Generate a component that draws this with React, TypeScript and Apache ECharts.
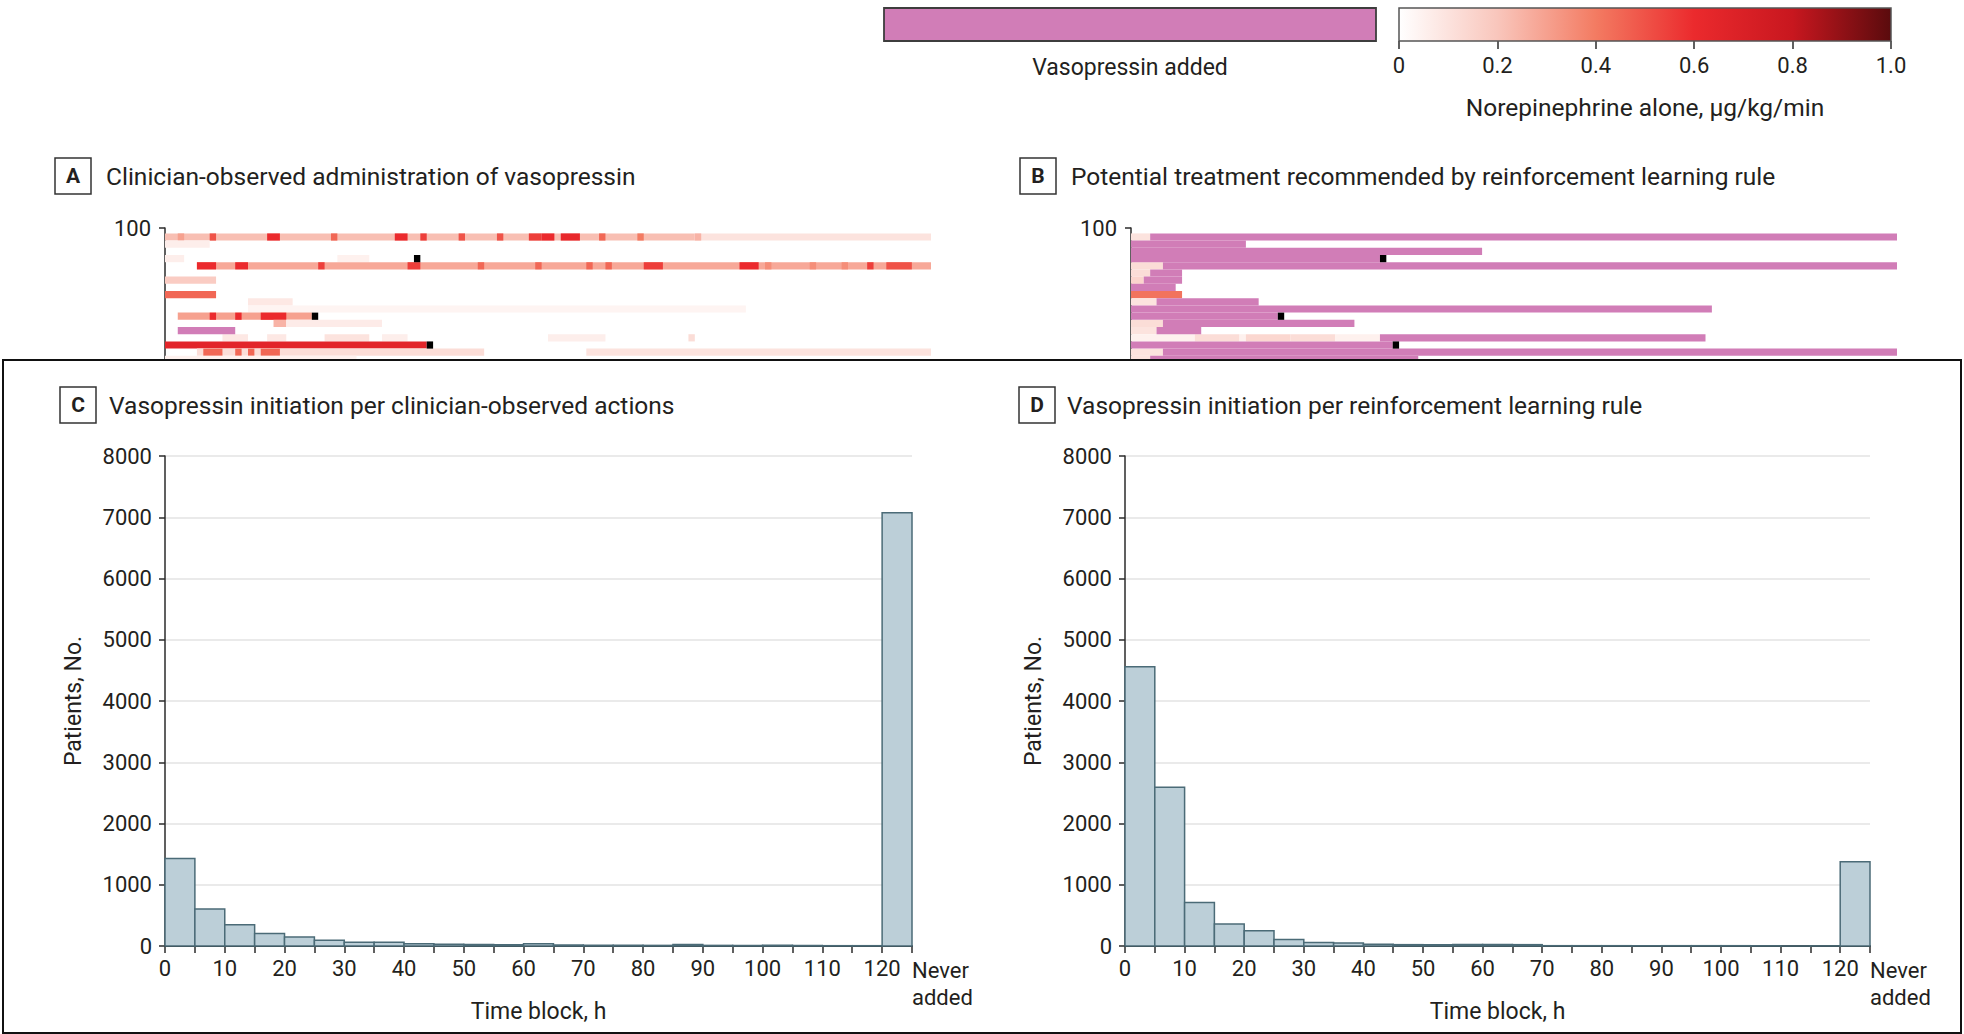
import React, { useEffect, useRef } from "react";
import * as echarts from "echarts";

// ---------- style constants ----------
const FONT = "Roboto, 'Liberation Sans', sans-serif";
const TEXT = "#231f20";
const AXIS = "#2b2b2b";
const VASO_COLOR = "#d17db7";
const BAR_FILL = "#bccfd8";
const BAR_STROKE = "#4b6b77";
const GRID_LINE = "#e3e3e3";

// ---------- colour scale (norepinephrine alone, µg/kg/min) ----------
const NOREPI_MIN = 0;
const NOREPI_MAX = 1;
const NOREPI_COLORS = ["#ffffff", "#f9c6bc", "#f37b62", "#eb2a2d", "#c8171f", "#5a0b0d"];

// ---------- heat map panels (rows = patients, columns = time blocks) ----------
const HEAT_X_MAX = 120;
const HEAT_Y_TICKS = [100];

// A: [patient, startBlock, endBlock, norepinephrine dose]
const A_NOREPI = [
  [99, 0, 83, 0.22], [99, 83, 120, 0.1],
  [99, 2, 3, 0.3], [99, 7, 8, 0.5], [99, 16, 18, 0.6], [99, 26, 27, 0.45], [99, 36, 38, 0.6],
  [99, 40, 41, 0.55], [99, 46, 47, 0.5], [99, 52, 53, 0.5], [99, 57, 59, 0.55], [99, 59, 61, 0.6],
  [99, 62, 65, 0.62], [99, 68, 69, 0.45], [99, 74, 75, 0.4], [99, 83, 84, 0.25],
  [98, 0, 7, 0.06],
  [96, 0, 3, 0.06], [96, 27, 32, 0.05],
  [95, 5, 120, 0.28],
  [95, 5, 8, 0.6], [95, 11, 13, 0.6], [95, 24, 25, 0.55], [95, 38, 40, 0.55], [95, 49, 50, 0.45],
  [95, 58, 59, 0.45], [95, 66, 67, 0.45], [95, 69, 70, 0.45], [95, 75, 78, 0.55], [95, 90, 93, 0.6],
  [95, 94, 95, 0.35], [95, 101, 102, 0.35], [95, 106, 107, 0.35], [95, 110, 111, 0.55], [95, 113, 117, 0.5],
  [93, 0, 8, 0.18],
  [91, 0, 8, 0.45],
  [90, 13, 20, 0.08],
  [89, 13, 91, 0.04],
  [88, 2, 23, 0.3], [88, 7, 8, 0.6], [88, 11, 12, 0.6], [88, 15, 19, 0.6],
  [87, 17, 19, 0.25], [87, 19, 34, 0.07],
  [85, 9, 13, 0.08], [85, 16, 19, 0.08], [85, 25, 32, 0.1], [85, 34, 38, 0.06], [85, 60, 69, 0.06], [85, 82, 83, 0.12],
  [84, 0, 41, 0.65],
  [83, 5, 50, 0.12], [83, 66, 120, 0.1],
  [83, 6, 9, 0.45], [83, 11, 12, 0.45], [83, 13, 14, 0.45], [83, 15, 18, 0.45],
  [82, 0, 30, 0.05],
];
// A: [patient, startBlock, endBlock] with vasopressin added
const A_VASO = [[86, 2, 11]];
// A: [patient, block] of black markers
const A_MARKERS = [[96, 39], [88, 23], [84, 41]];

// B: [patient, startBlock, endBlock, norepinephrine dose]
const B_NOREPI = [
  [99, 0, 3, 0.1],
  [95, 0, 5, 0.12],
  [94, 0, 3, 0.12],
  [93, 0, 2, 0.15],
  [91, 0, 8, 0.42],
  [90, 0, 4, 0.1],
  [87, 0, 5, 0.12],
  [86, 0, 4, 0.1],
  [85, 0, 10, 0.05], [85, 10, 17, 0.12], [85, 17, 18, 0.05], [85, 18, 25, 0.14], [85, 25, 32, 0.12], [85, 32, 39, 0.05],
  [83, 0, 5, 0.1],
  [82, 0, 3, 0.1],
];
// B: [patient, startBlock, endBlock] with vasopressin recommended
const B_VASO = [
  [99, 3, 120], [98, 0, 18], [97, 0, 55], [96, 0, 39], [95, 5, 120], [94, 3, 8], [93, 2, 8],
  [92, 0, 7], [90, 4, 20], [89, 0, 91], [88, 0, 23], [87, 5, 35], [86, 4, 11], [85, 39, 90],
  [84, 0, 41], [83, 5, 120], [82, 3, 45],
];
const B_MARKERS = [[96, 39], [88, 23], [84, 41]];

// ---------- histograms (5-h time blocks) ----------
const BIN_EDGES = [0, 5, 10, 15, 20, 25, 30, 35, 40, 45, 50, 55, 60, 65, 70, 75, 80, 85, 90, 95, 100, 105, 110, 115, 120];
const NEVER_BIN = [120, 125];
const C_COUNTS = [1430, 605, 345, 205, 145, 95, 62, 60, 35, 27, 25, 22, 35, 15, 12, 12, 10, 25, 10, 10, 12, 8, 5, 5];
const C_NEVER = 7075;
const D_COUNTS = [4560, 2590, 712, 358, 248, 108, 56, 50, 28, 22, 20, 25, 25, 22, 5, 5, 5, 5, 5, 5, 5, 3, 2, 2];
const D_NEVER = 1375;
const Y_MAX = 8000;
const Y_STEP = 1000;

function histData(counts: number[], never: number) {
  const rows = counts.map((c, i) => [BIN_EDGES[i], BIN_EDGES[i + 1], c]);
  rows.push([NEVER_BIN[0], NEVER_BIN[1], never]);
  return rows;
}

function heatRender(kind: "norepi" | "vaso" | "marker") {
  return (params: any, api: any) => {
    const p = api.value(0);
    const s = api.value(1);
    const e = kind === "marker" ? s + 1 : api.value(2);
    const tl = api.coord([s, p + 0.25]);
    const br = api.coord([e, p - 0.75]);
    const cs = params.coordSys;
    const rect = echarts.graphic.clipRectByRect(
      { x: tl[0], y: tl[1], width: br[0] - tl[0], height: br[1] - tl[1] },
      { x: cs.x, y: cs.y, width: cs.width, height: cs.height }
    );
    if (!rect) return null;
    const fill = kind === "norepi" ? api.visual("color") : kind === "vaso" ? VASO_COLOR : "#000000";
    return { type: "rect", shape: rect, style: { fill } };
  };
}

function histRender(params: any, api: any) {
  const p0 = api.coord([api.value(0), api.value(2)]);
  const p1 = api.coord([api.value(1), 0]);
  return {
    type: "rect",
    shape: { x: p0[0], y: p0[1], width: p1[0] - p0[0], height: p1[1] - p0[1] },
    style: { fill: BAR_FILL, stroke: BAR_STROKE, lineWidth: 1.5 },
  };
}

function colorbarRender(params: any, api: any) {
  const p0 = api.coord([api.value(0), 1]);
  const p1 = api.coord([api.value(1), 0]);
  const stops = NOREPI_COLORS.map((c, i) => ({ offset: i / (NOREPI_COLORS.length - 1), color: c }));
  return {
    type: "rect",
    shape: { x: p0[0], y: p0[1], width: p1[0] - p0[0], height: p1[1] - p0[1] },
    style: { fill: new echarts.graphic.LinearGradient(0, 0, 1, 0, stops), stroke: "#555", lineWidth: 1.5 },
  };
}

const tickLabel = { fontFamily: FONT, fontSize: 22, color: TEXT };

function heatGrid(i: number) {
  return {
    x: { gridIndex: i, type: "value", min: 0, max: HEAT_X_MAX, show: false },
    y: {
      gridIndex: i, type: "value", min: 81.67, max: 100,
      axisLine: { show: true, lineStyle: { color: AXIS, width: 1.5 } },
      axisTick: { show: true, customValues: HEAT_Y_TICKS, length: 6, lineStyle: { color: AXIS, width: 1.5 } },
      axisLabel: { ...tickLabel, customValues: HEAT_Y_TICKS, margin: 14 },
      splitLine: { show: false },
    },
  };
}

function histAxes(i: number) {
  return {
    x: {
      gridIndex: i, type: "value", position: "bottom", min: 0, max: 125, interval: 5,
      axisLine: { show: true, lineStyle: { color: AXIS, width: 2 } },
      axisTick: { show: true, length: 7, lineStyle: { color: AXIS, width: 1.5 } },
      axisLabel: { ...tickLabel, margin: 11, formatter: (v: number) => (v <= 120 && v % 10 === 0 ? String(v) : "") },
      splitLine: { show: false },
      name: "Time block, h", nameLocation: "middle", nameGap: 54,
      nameTextStyle: { fontFamily: FONT, fontSize: 23, color: TEXT },
    },
    never: {
      gridIndex: i, type: "value", position: "bottom", offset: 0, min: 0, max: 125, interval: 125,
      axisLine: { show: false }, axisTick: { show: false }, splitLine: { show: false },
      axisLabel: { ...tickLabel, margin: 11, align: "left", lineHeight: 27, formatter: (v: number) => (v === 125 ? "Never\nadded" : "") },
    },
    y: {
      gridIndex: i, type: "value", min: 0, max: Y_MAX, interval: Y_STEP,
      axisLine: { show: true, lineStyle: { color: AXIS, width: 1.5 } },
      axisTick: { show: true, length: 6, lineStyle: { color: AXIS, width: 1.5 } },
      axisLabel: { ...tickLabel, margin: 13, formatter: (v: number) => String(v) },
      splitLine: { show: true, lineStyle: { color: GRID_LINE, width: 1.5 } },
      name: "Patients, No.", nameLocation: "middle", nameGap: 80, nameRotate: 90,
      nameTextStyle: { fontFamily: FONT, fontSize: 23, color: TEXT },
    },
  };
}

function panelLabel(letter: string, x: number, y: number, title: string, tx: number) {
  return [
    { type: "rect", shape: { x, y, width: 36, height: 36 }, style: { fill: "#fff", stroke: "#333", lineWidth: 1.5 } },
    { type: "text", x: x + 18, y: y + 18, style: { text: letter, fontFamily: FONT, fontSize: 21, fontWeight: "bold", fill: TEXT, align: "center", verticalAlign: "middle" } },
    { type: "text", x: tx, y: y + 18, style: { text: title, fontFamily: FONT, fontSize: 24.5, fill: TEXT, align: "left", verticalAlign: "middle" } },
  ];
}

function buildOption(): any {
  const hA = heatGrid(0);
  const hB = heatGrid(1);
  const hC = histAxes(2);
  const hD = histAxes(3);
  return {
    animation: false,
    backgroundColor: "#ffffff",
    textStyle: { fontFamily: FONT },
    grid: [
      { left: 165, top: 228, width: 766, height: 132 },
      { left: 1131, top: 228, width: 766, height: 132 },
      { left: 165, top: 456, width: 747, height: 490 },
      { left: 1125, top: 456, width: 745, height: 490 },
      { left: 1399, top: 8, width: 492, height: 33 },
    ],
    xAxis: [
      hA.x, hB.x, hC.x, hD.x, hC.never, hD.never,
      {
        gridIndex: 4, type: "value", position: "bottom", min: NOREPI_MIN, max: NOREPI_MAX, interval: 0.2,
        axisLine: { show: false },
        axisTick: { show: true, length: 8, lineStyle: { color: AXIS, width: 1.5 } },
        axisLabel: { ...tickLabel, margin: 13, formatter: (v: number) => (v === 0 ? "0" : v.toFixed(1)) },
        splitLine: { show: false },
      },
    ],
    yAxis: [hA.y, hB.y, hC.y, hD.y, { gridIndex: 4, type: "value", min: 0, max: 1, show: false }],
    visualMap: {
      type: "continuous", show: false, min: NOREPI_MIN, max: NOREPI_MAX, dimension: 3,
      seriesIndex: [0, 3], inRange: { color: NOREPI_COLORS },
    },
    series: [
      { type: "custom", name: "A norepinephrine", xAxisIndex: 0, yAxisIndex: 0, data: A_NOREPI, encode: { x: [1, 2], y: 0 }, renderItem: heatRender("norepi") },
      { type: "custom", name: "A vasopressin", xAxisIndex: 0, yAxisIndex: 0, data: A_VASO, encode: { x: [1, 2], y: 0 }, renderItem: heatRender("vaso") },
      { type: "custom", name: "A markers", xAxisIndex: 0, yAxisIndex: 0, data: A_MARKERS, encode: { x: 1, y: 0 }, renderItem: heatRender("marker") },
      { type: "custom", name: "B norepinephrine", xAxisIndex: 1, yAxisIndex: 1, data: B_NOREPI, encode: { x: [1, 2], y: 0 }, renderItem: heatRender("norepi") },
      { type: "custom", name: "B vasopressin", xAxisIndex: 1, yAxisIndex: 1, data: B_VASO, encode: { x: [1, 2], y: 0 }, renderItem: heatRender("vaso") },
      { type: "custom", name: "B markers", xAxisIndex: 1, yAxisIndex: 1, data: B_MARKERS, encode: { x: 1, y: 0 }, renderItem: heatRender("marker") },
      { type: "custom", name: "C clinician", xAxisIndex: 2, yAxisIndex: 2, data: histData(C_COUNTS, C_NEVER), encode: { x: [0, 1], y: 2 }, renderItem: histRender },
      { type: "custom", name: "D RL rule", xAxisIndex: 3, yAxisIndex: 3, data: histData(D_COUNTS, D_NEVER), encode: { x: [0, 1], y: 2 }, renderItem: histRender },
      { type: "custom", name: "colorbar", xAxisIndex: 6, yAxisIndex: 4, silent: true, data: [[NOREPI_MIN, NOREPI_MAX]], encode: { x: [0, 1] }, renderItem: colorbarRender },
    ],
    graphic: [
      { type: "rect", shape: { x: 884, y: 8, width: 492, height: 33 }, style: { fill: VASO_COLOR, stroke: "#3d3d3d", lineWidth: 1.8 } },
      { type: "text", x: 1130, y: 67, style: { text: "Vasopressin added", fontFamily: FONT, fontSize: 23, fill: TEXT, align: "center", verticalAlign: "middle" } },
      { type: "text", x: 1645, y: 107, style: { text: "Norepinephrine alone, µg/kg/min", fontFamily: FONT, fontSize: 24.5, fill: TEXT, align: "center", verticalAlign: "middle" } },
      ...panelLabel("A", 55, 158, "Clinician-observed administration of vasopressin", 106),
      ...panelLabel("B", 1020, 158, "Potential treatment recommended by reinforcement learning rule", 1071),
      ...panelLabel("C", 60, 387, "Vasopressin initiation per clinician-observed actions", 109),
      ...panelLabel("D", 1019, 387, "Vasopressin initiation per reinforcement learning rule", 1067),
      { type: "rect", z: 100, shape: { x: 3, y: 360, width: 1958, height: 673 }, style: { fill: "transparent", stroke: "#111", lineWidth: 2 } },
    ],
  };
}

export default function App() {
  const ref = useRef<HTMLDivElement>(null);
  useEffect(() => {
    document.body.style.margin = "0";
    document.body.style.overflow = "hidden";
    const chart = echarts.init(ref.current!, null, { renderer: "svg" });
    chart.setOption(buildOption());
    return () => chart.dispose();
  }, []);
  return <div ref={ref} style={{ width: 1964, height: 1034, background: "#fff" }} />;
}
